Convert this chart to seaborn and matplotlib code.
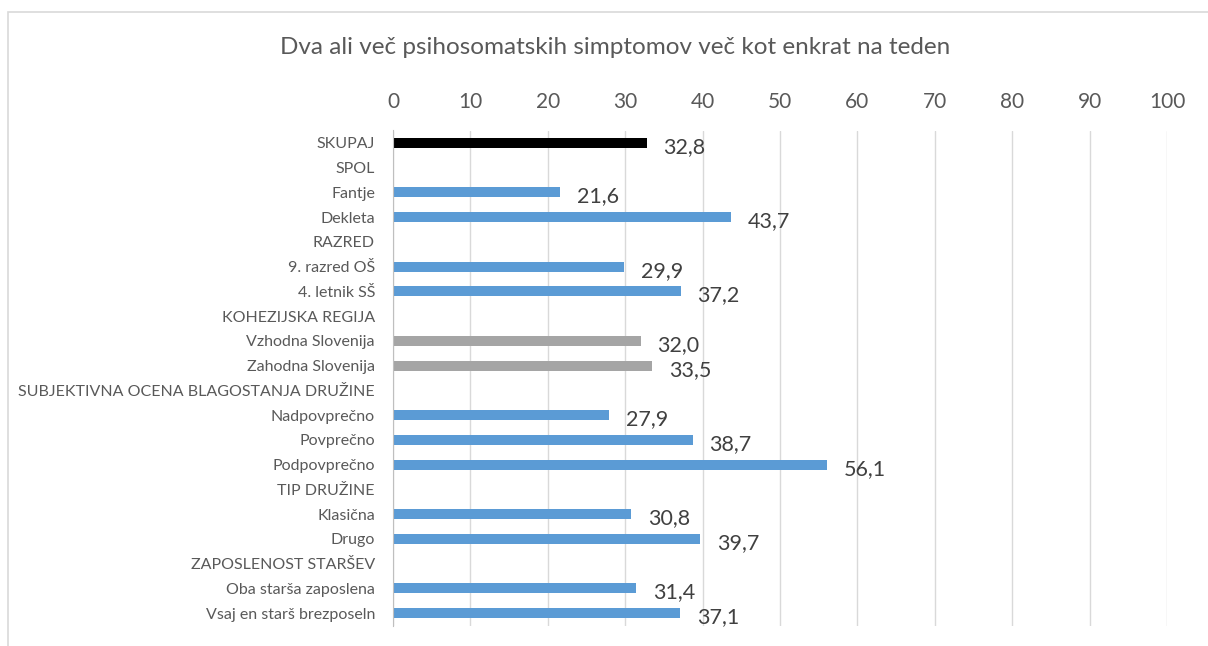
import matplotlib
matplotlib.use('Agg')

import matplotlib.pyplot as plt
import matplotlib.patches as mpatches
import seaborn as sns
import numpy as np
import pandas as pd

labels = [
    "SKUPAJ", "SPOL", "Fantje", "Dekleta", "RAZRED", "9. razred OŠ", "4. letnik SŠ",
    "KOHEZIJSKA REGIJA", "Vzhodna Slovenija", "Zahodna Slovenija",
    "SUBJEKTIVNA OCENA BLAGOSTANJA DRUŽINE", "Nadpovprečno", "Povprečno", "Podpovprečno",
    "TIP DRUŽINE", "Klasična", "Drugo", "ZAPOSLENOST STARŠEV",
    "Oba starša zaposlena", "Vsaj en starš brezposeln",
]
values = [32.8, np.nan, 21.6, 43.7, np.nan, 29.9, 37.2, np.nan, 32.0, 33.5,
          np.nan, 27.9, 38.7, 56.1, np.nan, 30.8, 39.7, np.nan, 31.4, 37.1]
groups = ["total", "head", "blue", "blue", "head", "blue", "blue", "head", "gray", "gray",
          "head", "blue", "blue", "blue", "head", "blue", "blue", "head", "blue", "blue"]

colors = {"total": "#000000", "blue": "#5B9BD5", "gray": "#A5A5A5", "head": "#FFFFFF"}
text_col = "#595959"

df = pd.DataFrame({"label": labels, "value": values, "group": groups})

sns.set_style("white")
plt.rcParams['font.family'] = ['Lato', 'DejaVu Sans']

fig = plt.figure(figsize=(12.08, 6.46), dpi=100)
ax = fig.add_axes([393 / 1208, 1 - 625.5 / 646, (1167 - 393) / 1208, (625.5 - 130.5) / 646])

sns.barplot(data=df, x="value", y="label", hue="group", palette=colors, order=labels,
            orient="h", width=0.4, legend=False, dodge=False, ax=ax, linewidth=0,
            saturation=1)

ax.set_xlim(0, 100)
ax.set_xticks(range(0, 101, 10))
ax.xaxis.tick_top()
ax.tick_params(axis="x", length=0, pad=13, labelsize=15, labelcolor=text_col)
ax.tick_params(axis="y", length=0, pad=13, labelsize=11.5, labelcolor=text_col)
ax.grid(axis="x", color="#D9D9D9", linewidth=1)
ax.set_axisbelow(True)
for s in ["top", "right", "bottom"]:
    ax.spines[s].set_visible(False)
ax.spines["left"].set_color("#BFBFBF")
ax.set_xlabel("")
ax.set_ylabel("")

for i, v in enumerate(values):
    if not np.isnan(v):
        ax.annotate(f"{v:.1f}".replace(".", ","), (v, i), xytext=(12, -3),
                    textcoords="offset points", ha="left", va="center",
                    fontsize=15.5, color="#404040")

fig.text(615 / 1208, 1 - 48 / 646, "Dva ali več psihosomatskih simptomov več kot enkrat na teden",
         ha="center", va="center", fontsize=17.5, color=text_col)

fig.patches.append(mpatches.Rectangle((8 / 1208, -0.05), 1.1, 1 - 12 / 646 + 0.05,
                                      transform=fig.transFigure, fill=False,
                                      edgecolor="#D9D9D9", linewidth=1.2))

plt.savefig("out.png", dpi=100)
plt.close()
